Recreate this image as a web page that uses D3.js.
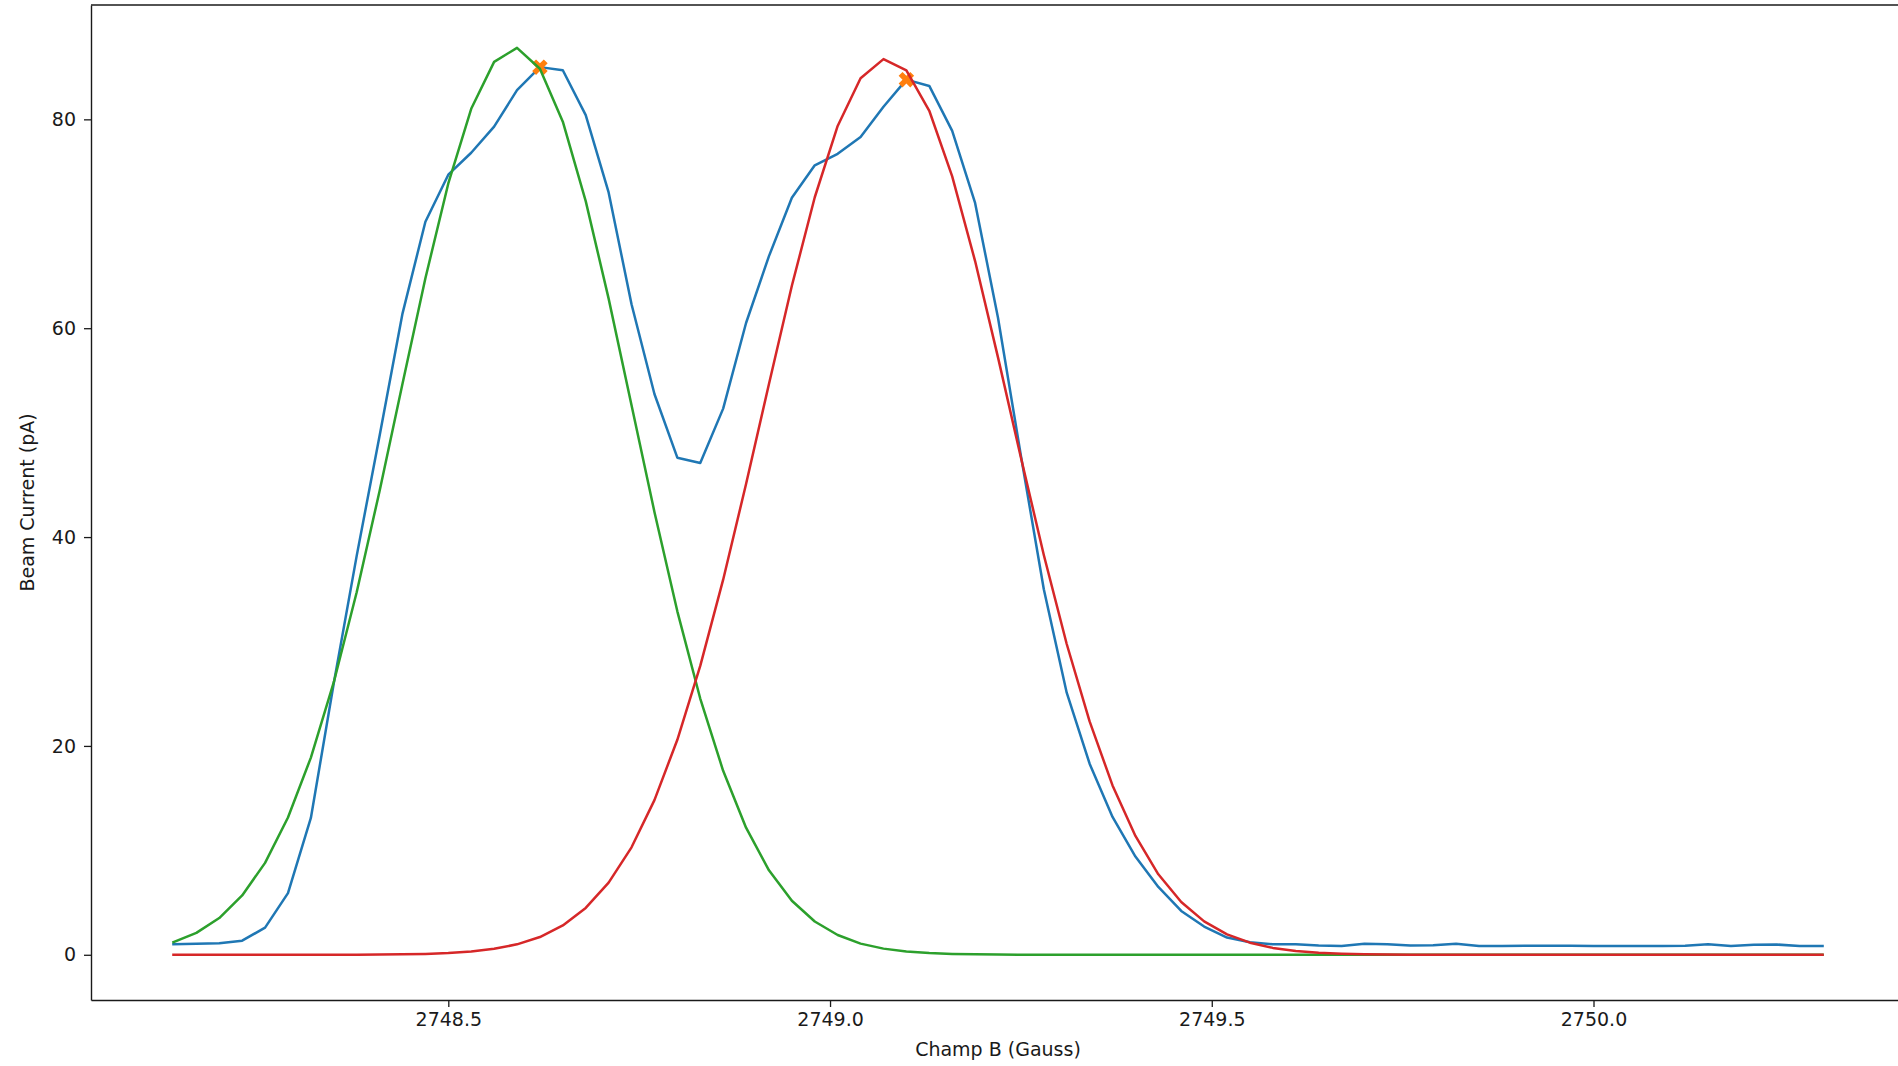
<!DOCTYPE html>
<html>
<head>
<meta charset="utf-8">
<script src="https://cdn.jsdelivr.net/npm/d3@7"></script>
<style>
  html, body { margin: 0; padding: 0; background: #fff; overflow: hidden; }
  svg { display: block; }
  text { font-family: "DejaVu Sans", sans-serif; }
</style>
</head>
<body>
<svg id="chart" width="1898" height="1066"></svg>
<script>
// Magnetic field sweep (Gauss)
const fieldB = [
  2748.14, 2748.17, 2748.20, 2748.23, 2748.26, 2748.29, 2748.32, 2748.35, 2748.38, 2748.41,
  2748.44, 2748.47, 2748.50, 2748.53, 2748.56, 2748.59, 2748.62, 2748.65, 2748.68, 2748.71,
  2748.74, 2748.77, 2748.80, 2748.83, 2748.86, 2748.89, 2748.92, 2748.95, 2748.98, 2749.01,
  2749.04, 2749.07, 2749.10, 2749.13, 2749.16, 2749.19, 2749.22, 2749.25, 2749.28, 2749.31,
  2749.34, 2749.37, 2749.40, 2749.43, 2749.46, 2749.49, 2749.52, 2749.55, 2749.58, 2749.61,
  2749.64, 2749.67, 2749.70, 2749.73, 2749.76, 2749.79, 2749.82, 2749.85, 2749.88, 2749.91,
  2749.94, 2749.97, 2750.00, 2750.03, 2750.06, 2750.09, 2750.12, 2750.15, 2750.18, 2750.21,
  2750.24, 2750.27, 2750.30
];

// Measured beam current (pA)
const measuredCurrent = [
  1.0, 1.05, 1.1, 1.35, 2.6, 5.9, 13.1, 26.0, 38.2, 49.7,
  61.4, 70.2, 74.7, 76.8, 79.3, 82.8, 85.0, 84.7, 80.4, 73.0,
  62.3, 53.7, 47.6, 47.1, 52.3, 60.5, 66.9, 72.5, 75.6, 76.7,
  78.3, 81.2, 83.8, 83.2, 78.9, 72.0, 61.0, 47.8, 35.0, 25.1,
  18.3, 13.2, 9.4, 6.5, 4.2, 2.7, 1.65, 1.2, 1.0, 1.0,
  0.9, 0.85, 1.05, 1.0, 0.9, 0.92, 1.05, 0.85, 0.85, 0.87,
  0.87, 0.87, 0.85, 0.85, 0.85, 0.85, 0.87, 1.0, 0.85, 0.95,
  0.98, 0.85, 0.85
];

// First fitted peak (pA)
const fitPeak1 = [
  1.21, 2.10, 3.52, 5.68, 8.80, 13.15, 18.88, 26.10, 34.71, 44.42,
  54.69, 64.79, 73.86, 81.01, 85.50, 86.85, 84.85, 79.78, 72.17, 62.83,
  52.62, 42.41, 32.89, 24.54, 17.62, 12.17, 8.09, 5.17, 3.19, 1.89,
  1.07, 0.59, 0.31, 0.16, 0.08, 0.04, 0.02, 0.01, 0, 0,
  0, 0, 0, 0, 0, 0, 0, 0, 0, 0,
  0, 0, 0, 0, 0, 0, 0, 0, 0, 0,
  0, 0, 0, 0, 0, 0, 0, 0, 0, 0,
  0, 0, 0
];

// Second fitted peak (pA)
const fitPeak2 = [
  0, 0, 0, 0, 0, 0, 0, 0, 0.01, 0.02,
  0.04, 0.08, 0.16, 0.31, 0.57, 1.00, 1.70, 2.81, 4.49, 6.91,
  10.29, 14.81, 20.59, 27.66, 35.92, 45.08, 54.66, 64.06, 72.54, 79.37,
  83.94, 85.77, 84.70, 80.82, 74.54, 66.43, 57.21, 47.62, 38.29, 29.76,
  22.35, 16.22, 11.38, 7.71, 5.05, 3.20, 1.96, 1.16, 0.66, 0.36,
  0.19, 0.10, 0.05, 0.02, 0.01, 0, 0, 0, 0, 0,
  0, 0, 0, 0, 0, 0, 0, 0, 0, 0,
  0, 0, 0
];

// Detected maxima of the measured signal
const peakField = [2748.62, 2749.10];
const peakCurrent = [85.0, 83.8];

// Axis ticks
const xTicks = [2748.5, 2749.0, 2749.5, 2750.0];
const yTicks = [0, 20, 40, 60, 80];

const svg = d3.select("#chart");
const plotLeft = 91, plotRight = 1905, plotTop = 5, plotBottom = 1000;

const x = d3.scaleLinear().domain([2748.032, 2750.408]).range([plotLeft, plotRight]);
const y = d3.scaleLinear().domain([-4.33, 90.95]).range([plotBottom, plotTop]);

const fontSize = 19;
const ink = "#1a1a1a";

// Axes
const xAxis = d3.axisBottom(x).tickValues(xTicks).tickFormat(d3.format(".1f"))
  .tickSize(7).tickSizeOuter(0).tickPadding(6);
const yAxis = d3.axisLeft(y).tickValues(yTicks).tickFormat(d3.format("d"))
  .tickSize(7).tickSizeOuter(0).tickPadding(8);

const gx = svg.append("g").attr("transform", `translate(0,${plotBottom})`).call(xAxis);
const gy = svg.append("g").attr("transform", `translate(${plotLeft},0)`).call(yAxis);

[gx, gy].forEach(g => {
  g.select(".domain").attr("stroke", ink).attr("stroke-width", 1.4);
  g.selectAll(".tick line").attr("stroke", ink).attr("stroke-width", 1.3);
  g.selectAll(".tick text").attr("fill", ink)
    .style("font-family", "'DejaVu Sans', sans-serif").style("font-size", fontSize + "px");
});

// Top spine
svg.append("line")
  .attr("x1", plotLeft).attr("x2", plotRight).attr("y1", plotTop).attr("y2", plotTop)
  .attr("stroke", ink).attr("stroke-width", 1.4);

// Axis labels
svg.append("text")
  .attr("x", (plotLeft + plotRight) / 2).attr("y", 1056)
  .attr("text-anchor", "middle").attr("fill", ink)
  .style("font-size", fontSize + "px")
  .text("Champ B (Gauss)");

svg.append("text")
  .attr("transform", `translate(34,${(plotTop + plotBottom) / 2}) rotate(-90)`)
  .attr("text-anchor", "middle").attr("fill", ink)
  .style("font-size", fontSize + "px")
  .text("Beam Current (pA)");

// Series
const line = vals => d3.line()
  .x((d, i) => x(fieldB[i]))
  .y(d => y(d))(vals);

const plot = svg.append("g");

plot.append("path")
  .attr("d", line(measuredCurrent))
  .attr("fill", "none").attr("stroke", "#1f77b4")
  .attr("stroke-width", 2.5).attr("stroke-linejoin", "round").attr("stroke-linecap", "square");

// Peak markers (filled X)
const xMarker = d3.symbol().type(d3.symbolCross).size(150);
plot.selectAll(".peak")
  .data(peakField.map((f, i) => [f, peakCurrent[i]]))
  .join("path")
  .attr("class", "peak")
  .attr("d", xMarker)
  .attr("transform", d => `translate(${x(d[0])},${y(d[1])}) rotate(45)`)
  .attr("fill", "#ff7f0e");

plot.append("path")
  .attr("d", line(fitPeak1))
  .attr("fill", "none").attr("stroke", "#2ca02c")
  .attr("stroke-width", 2.5).attr("stroke-linejoin", "round").attr("stroke-linecap", "square");

plot.append("path")
  .attr("d", line(fitPeak2))
  .attr("fill", "none").attr("stroke", "#d62728")
  .attr("stroke-width", 2.5).attr("stroke-linejoin", "round").attr("stroke-linecap", "square");
</script>
</body>
</html>
